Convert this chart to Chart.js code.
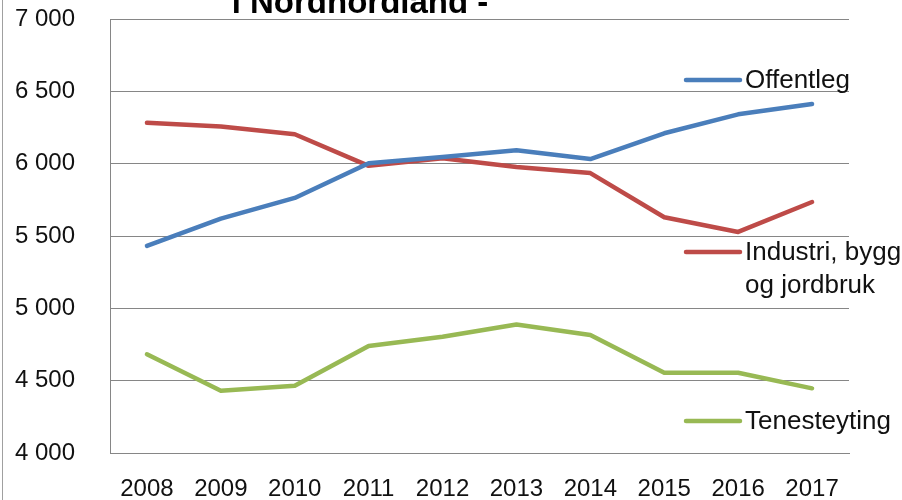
<!DOCTYPE html>
<html>
<head>
<meta charset="utf-8">
<script src="https://cdn.jsdelivr.net/npm/chart.js@4"></script>
<style>
html,body{margin:0;padding:0;background:#fff;}
#wrap{width:902px;height:500px;position:relative;}
</style>
</head>
<body>
<div id="wrap"><canvas id="c" width="902" height="500"></canvas></div>
<script>
const categories = ['2008','2009','2010','2011','2012','2013','2014','2015','2016','2017'];
const offentleg = [5432, 5620, 5763, 6003, 6046, 6092, 6032, 6210, 6341, 6412];
const industri = [6282, 6257, 6203, 5985, 6038, 5977, 5935, 5630, 5528, 5735];
const tenesteyting = [4682, 4431, 4465, 4740, 4804, 4888, 4816, 4555, 4555, 4447];
const seriesLabels = ['Offentleg', ['Industri, bygg', 'og jordbruk'], 'Tenesteyting'];
const titleText = 'i Nordhordland -';
const yTicks = [4000, 4500, 5000, 5500, 6000, 6500, 7000];

const FONT = '"Liberation Sans", Arial, sans-serif';

const legendPos = [80, 252, 421];

const extras = {
  id: 'extras',
  afterDraw(chart) {
    const ctx = chart.ctx;
    ctx.save();
    ctx.strokeStyle = '#a0a0a0';
    ctx.lineWidth = 1;
    ctx.beginPath(); ctx.moveTo(2.5, 0); ctx.lineTo(2.5, 500); ctx.stroke();
    ctx.fillStyle = '#000';
    ctx.font = 'bold 33px ' + FONT;
    ctx.textAlign = 'center';
    ctx.textBaseline = 'alphabetic';
    ctx.fillText(titleText, 360, 13);
    ctx.font = '26px ' + FONT;
    ctx.textAlign = 'left';
    ctx.textBaseline = 'middle';
    chart.data.datasets.forEach((ds, i) => {
      const y = legendPos[i];
      ctx.strokeStyle = ds.borderColor;
      ctx.lineWidth = 4.5;
      ctx.lineCap = 'round';
      ctx.beginPath(); ctx.moveTo(686, y); ctx.lineTo(740, y); ctx.stroke();
      ctx.fillStyle = '#111';
      const lab = seriesLabels[i];
      const lines = Array.isArray(lab) ? lab : [lab];
      lines.forEach((t, j) => ctx.fillText(t, 745, y + 1 + j * 33));
    });
    ctx.restore();
  }
};

new Chart(document.getElementById('c'), {
  type: 'line',
  data: {
    labels: categories,
    datasets: [
      { label: 'Offentleg', data: offentleg, borderColor: '#4A7EBB', borderWidth: 4.5, pointRadius: 0, tension: 0, borderCapStyle: 'round', borderJoinStyle: 'round' },
      { label: 'Industri, bygg og jordbruk', data: industri, borderColor: '#BE4B48', borderWidth: 4.5, pointRadius: 0, tension: 0, borderCapStyle: 'round', borderJoinStyle: 'round' },
      { label: 'Tenesteyting', data: tenesteyting, borderColor: '#98B954', borderWidth: 4.5, pointRadius: 0, tension: 0, borderCapStyle: 'round', borderJoinStyle: 'round' }
    ]
  },
  options: {
    responsive: false,
    animation: false,
    layout: { padding: { top: 19, right: 53, left: 0, bottom: 0 } },
    plugins: { legend: { display: false }, title: { display: false }, tooltip: { enabled: false } },
    scales: {
      x: {
        offset: true,
        grid: { display: false, drawTicks: false },
        border: { display: true, color: '#868686', width: 1 },
        ticks: { color: '#111', font: { family: FONT, size: 24 }, padding: 22, maxRotation: 0, autoSkip: false },
        afterFit(s) { s.height = 47; }
      },
      y: {
        min: 4000, max: 7000,
        afterBuildTicks(s) { s.ticks = yTicks.map(v => ({ value: v })); },
        grid: { color: '#868686', lineWidth: 1, drawTicks: false },
        border: { display: true, color: '#868686', width: 1 },
        ticks: {
          color: '#111', font: { family: FONT, size: 24 }, padding: 35,
          callback: v => { const s = String(v); return s.slice(0, s.length - 3) + ' ' + s.slice(-3); }
        },
        afterFit(s) { s.width = 110; s.paddingTop = 0; s.paddingBottom = 0; }
      }
    }
  },
  plugins: [extras]
});
</script>
</body>
</html>
